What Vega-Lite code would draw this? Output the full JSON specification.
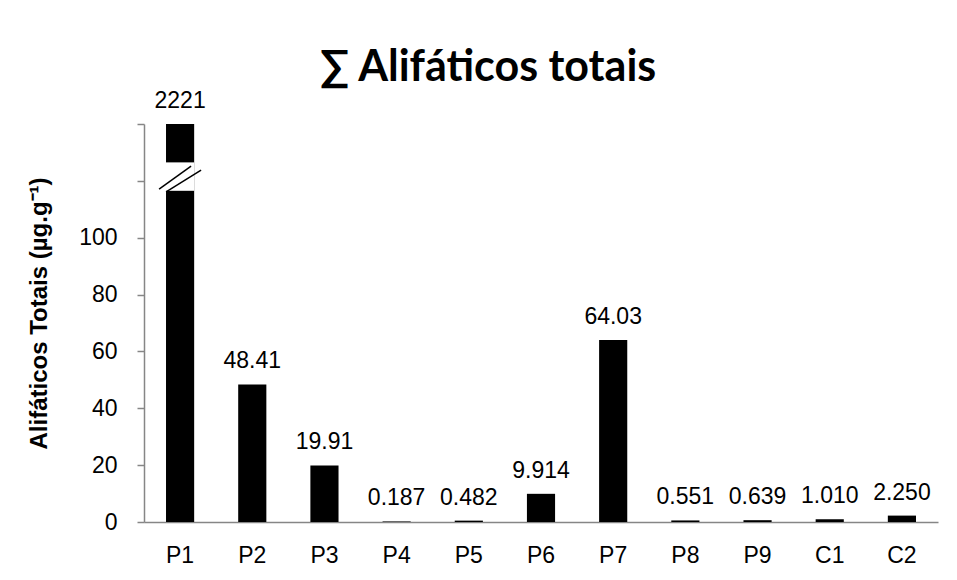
{
  "$schema": "https://vega.github.io/schema/vega-lite/v6.json",
  "width": 794,
  "height": 398,
  "autosize": {"type": "none"},
  "padding": {"left": 144, "top": 124, "right": 19, "bottom": 58},
  "background": "white",
  "config": {"view": {"stroke": null}, "font": "Liberation Sans"},
  "title": {
    "text": "∑ Alifáticos totais",
    "font": "Lato",
    "fontSize": 43,
    "fontWeight": "bold",
    "color": "black",
    "anchor": "middle",
    "dx": -53,
    "offset": 0
  },
  "datasets": {
    "main": [
      {"amostra": "P1", "valor": 2221, "rotulo": "2221"},
      {"amostra": "P2", "valor": 48.41, "rotulo": "48.41"},
      {"amostra": "P3", "valor": 19.91, "rotulo": "19.91"},
      {"amostra": "P4", "valor": 0.187, "rotulo": "0.187"},
      {"amostra": "P5", "valor": 0.482, "rotulo": "0.482"},
      {"amostra": "P6", "valor": 9.914, "rotulo": "9.914"},
      {"amostra": "P7", "valor": 64.03, "rotulo": "64.03"},
      {"amostra": "P8", "valor": 0.551, "rotulo": "0.551"},
      {"amostra": "P9", "valor": 0.639, "rotulo": "0.639"},
      {"amostra": "C1", "valor": 1.01, "rotulo": "1.010"},
      {"amostra": "C2", "valor": 2.25, "rotulo": "2.250"}
    ],
    "quebra": [
      {"amostra": "P1", "inicio": 116.5, "fim": 126.5, "a1": 117.1, "b1": 125.2, "a2": 116.1, "b2": 123.8}
    ]
  },
  "encoding": {
    "x": {
      "field": "amostra",
      "type": "nominal",
      "sort": null,
      "scale": {"domain": ["P1","P2","P3","P4","P5","P6","P7","P8","P9","C1","C2"], "paddingInner": 0.61, "paddingOuter": 0.305},
      "axis": {
        "title": null,
        "labelAngle": 0,
        "labelFontSize": 23,
        "labelColor": "black",
        "labelPadding": 22,
        "ticks": false,
        "domainColor": "#868686",
        "domainWidth": 1.5
      }
    }
  },
  "layer": [
    {
      "data": {"name": "main"},
      "mark": {"type": "bar", "color": "black"},
      "encoding": {
        "y": {
          "field": "valor",
          "type": "quantitative",
          "scale": {"domain": [0, 140], "clamp": true, "nice": false},
          "axis": {
            "title": "Alifáticos Totais (µg.g⁻¹)",
            "titleFontSize": 24,
            "titleFontWeight": "bold",
            "titleColor": "black",
            "titlePadding": 27,
            "titleY": 189,
            "values": [0, 20, 40, 60, 80, 100, 120, 140],
            "labelExpr": "datum.value <= 100 ? datum.label : ''",
            "labelFontSize": 23,
            "labelColor": "black",
            "labelPadding": 20,
            "tickSize": 7,
            "tickColor": "#868686",
            "tickWidth": 1.5,
            "domainColor": "#868686",
            "domainWidth": 1.5,
            "grid": false
          }
        }
      }
    },
    {
      "data": {"name": "main"},
      "mark": {"type": "text", "fontSize": 23, "color": "black", "baseline": "alphabetic", "dy": -16},
      "encoding": {
        "y": {"field": "valor", "type": "quantitative"},
        "text": {"field": "rotulo", "type": "nominal"}
      }
    },
    {
      "data": {"name": "quebra"},
      "mark": {"type": "bar", "color": "white"},
      "encoding": {
        "y": {"field": "inicio", "type": "quantitative"},
        "y2": {"field": "fim"}
      }
    },
    {
      "data": {"name": "quebra"},
      "mark": {"type": "rule", "color": "black", "strokeWidth": 1.5, "xOffset": -21, "x2Offset": 11},
      "encoding": {
        "x2": {"field": "amostra"},
        "y": {"field": "a1", "type": "quantitative"},
        "y2": {"field": "b1"}
      }
    },
    {
      "data": {"name": "quebra"},
      "mark": {"type": "rule", "color": "black", "strokeWidth": 1.5, "xOffset": -14, "x2Offset": 21},
      "encoding": {
        "x2": {"field": "amostra"},
        "y": {"field": "a2", "type": "quantitative"},
        "y2": {"field": "b2"}
      }
    }
  ]
}
